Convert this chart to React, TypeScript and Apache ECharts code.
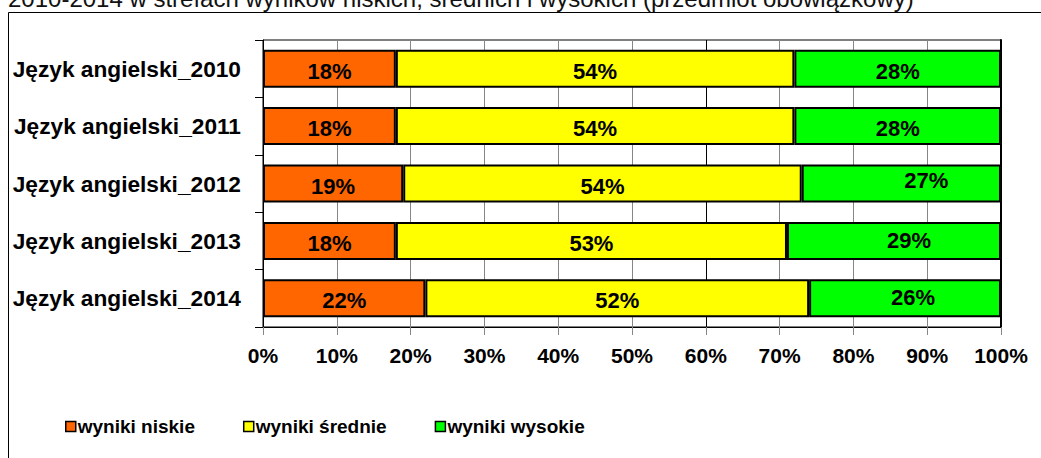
import React, { useEffect, useRef } from 'react';
import * as echarts from 'echarts';

const TITLE = '2010-2014 w strefach wyników niskich, średnich i wysokich (przedmiot obowiązkowy)';
const categories = [
  'Język angielski_2010',
  'Język angielski_2011',
  'Język angielski_2012',
  'Język angielski_2013',
  'Język angielski_2014',
];
const seriesNames = ['wyniki niskie', 'wyniki średnie', 'wyniki wysokie'];
const lowValues = [18, 18, 19, 18, 22];
const midValues = [54, 54, 54, 53, 52];
const highValues = [28, 28, 27, 29, 26];
const xTickValues = [0, 10, 20, 30, 40, 50, 60, 70, 80, 90, 100];

// label nudges (as placed manually in the original)
const highLabelOffsets = [
  [0, 2.5],
  [0, 2.5],
  [25, -3],
  [15, 0],
  [8, -1],
];

const FONT = '"Liberation Sans", Arial, sans-serif';
const COLORS = ['#FF6600', '#FFFF00', '#00FF00'];

export default function App() {
  const ref = useRef<HTMLDivElement>(null);
  useEffect(() => {
    if (!ref.current) return;
    const chart = echarts.init(ref.current, undefined, { renderer: 'svg' });
    const labelBase = {
      show: true,
      position: 'inside',
      color: '#000',
      fontFamily: FONT,
      fontWeight: 'bold',
      fontSize: 22,
      offset: [0, 2.5],
      formatter: (p: any) => `${p.value}%`,
    };
    const splitColors = xTickValues.map((v) => (v === 60 ? '#000' : '#868686'));
    const mk = (name: string, vals: number[], color: string, offsets?: number[][]) => ({
      name,
      type: 'bar',
      stack: 'total',
      barWidth: 38,
      itemStyle: { color, borderColor: '#000', borderWidth: 2 },
      label: labelBase,
      data: vals.map((v, i) =>
        offsets ? { value: v, label: { offset: offsets[i] } } : v
      ),
    });
    chart.setOption({
      animation: false,
      backgroundColor: '#fff',
      graphic: [
        {
          type: 'rect',
          silent: true,
          shape: { x: 8.5, y: 12.5, width: 1100, height: 500 },
          style: { fill: 'none', stroke: '#000', lineWidth: 1 },
        },
        {
          type: 'text',
          x: 8,
          y: -1.5,
          silent: true,
          style: {
            text: TITLE,
            font: `24px ${FONT}`,
            fill: '#111',
            verticalAlign: 'middle',
          },
        },
      ],
      grid: {
        left: 263,
        right: 40,
        top: 40,
        bottom: 131,
        show: true,
        borderColor: '#000',
        borderWidth: 1,
        containLabel: false,
      },
      legend: {
        data: seriesNames,
        left: 65,
        top: 417,
        padding: 0,
        itemWidth: 10,
        itemHeight: 10,
        itemGap: 48,
        icon: 'rect',
        itemStyle: { borderColor: '#000', borderWidth: 1.5 },
        textStyle: {
          fontFamily: FONT,
          fontWeight: 'bold',
          fontSize: 19,
          color: '#000',
          padding: [0, 0, 0, -3],
        },
      },
      xAxis: {
        type: 'value',
        min: 0,
        max: 100,
        interval: 10,
        axisLine: { show: true, lineStyle: { color: '#000', width: 1 } },
        axisTick: { show: true, length: 8, lineStyle: { color: '#868686' } },
        axisLabel: {
          formatter: (v: number) => `${v}%`,
          fontFamily: FONT,
          fontWeight: 'bold',
          fontSize: 21,
          color: '#000',
          margin: 18,
        },
        splitLine: { show: true, lineStyle: { color: splitColors, width: 1 } },
      },
      yAxis: [
        {
          type: 'category',
          inverse: true,
          data: categories,
          axisLine: { show: true, lineStyle: { color: '#000', width: 1 } },
          axisTick: { show: true, length: 8, lineStyle: { color: '#000' } },
          axisLabel: {
            fontFamily: FONT,
            fontWeight: 'bold',
            fontSize: 22.7,
            color: '#000',
            margin: 22,
          },
        },
        {
          type: 'category',
          inverse: true,
          position: 'right',
          data: categories,
          axisLine: { show: true, lineStyle: { color: '#000', width: 2 } },
          axisTick: { show: false },
          axisLabel: { show: false },
          splitLine: { show: false },
        },
      ],
      series: [
        mk(seriesNames[0], lowValues, COLORS[0]),
        mk(seriesNames[1], midValues, COLORS[1]),
        mk(seriesNames[2], highValues, COLORS[2], highLabelOffsets),
      ],
    });
    return () => chart.dispose();
  }, []);
  return (
    <div
      ref={ref}
      style={{ position: 'absolute', left: 0, top: 0, width: 1041, height: 458 }}
    />
  );
}
